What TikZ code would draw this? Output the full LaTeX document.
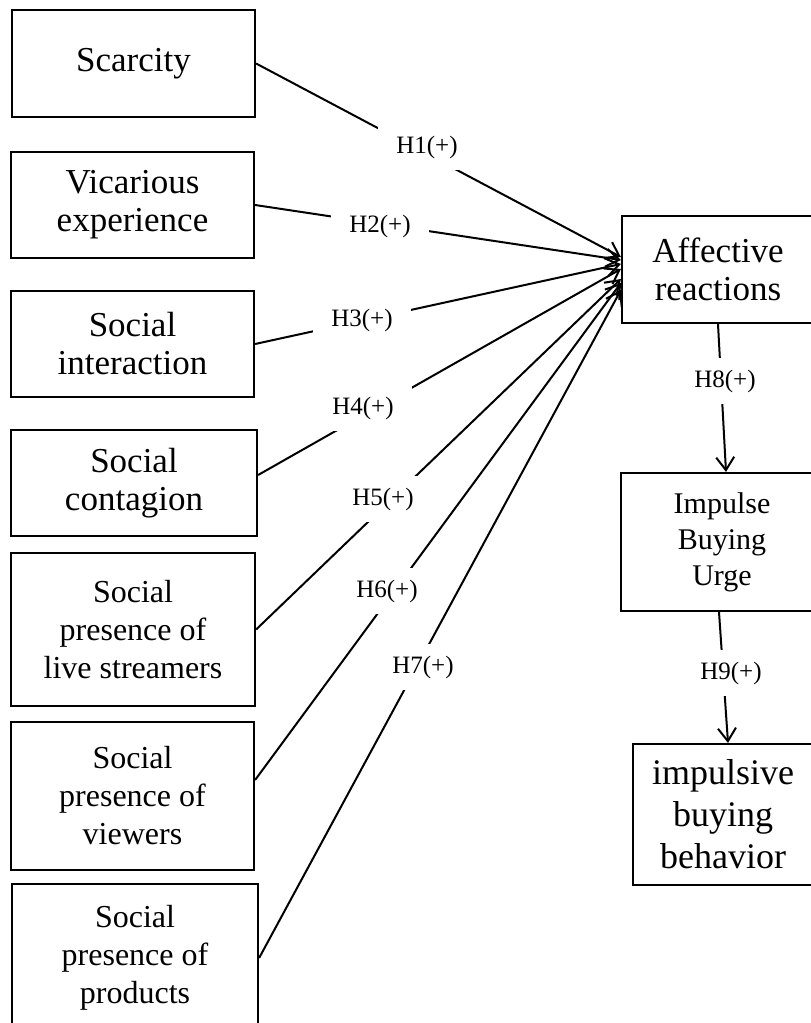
\documentclass[tikz,border=0pt]{standalone}
\usepackage{fontspec}
\setmainfont{Liberation Serif}
\usetikzlibrary{arrows.meta}

\begin{document}
\begin{tikzpicture}[x=1pt, y=-1pt,
        box/.style={draw, line width=2.2pt, align=center, inner sep=0pt},
        bigtext/.style={font=\fontsize{35}{38}\selectfont},
        midtext/.style={font=\fontsize{32}{38}\selectfont},
        hyp/.style={fill=white, inner xsep=18pt, inner ysep=12pt, font=\fontsize{25}{28}\selectfont},
        link/.style={line width=2pt, -{Straight Barb[length=13pt, width=18pt]}}]
        \useasboundingbox (0,0) rectangle (811,1023);
        \clip (0,0) rectangle (811,1023);

        % Antecedents
        \node[box, bigtext, minimum width=243pt, minimum height=107pt] (scar) at (133.5,63.5) {Scarcity};
        \node[box, bigtext, minimum width=243pt, minimum height=106pt] (vica) at (132.5,205) {Vicarious\\experience};
        \node[box, bigtext, minimum width=243pt, minimum height=106pt] (inter) at (132.5,344) {Social\\interaction};
        \node[box, bigtext, minimum width=246pt, minimum height=106pt] (conta) at (134,483) {Social\\contagion};
        \node[box, midtext, minimum width=244pt, minimum height=153pt] (live) at (133,629.5) {Social\\presence of\\live streamers};
        \node[box, midtext, minimum width=243pt, minimum height=148pt] (view) at (132.5,796) {Social\\presence of\\viewers};
        \node[box, midtext, minimum width=246pt, minimum height=148pt] (prod) at (135,958) {Social\\presence of\\products};

        % Mediators and outcome
        \node[box, bigtext, minimum width=192pt, minimum height=107pt] (aff) at (718,269.5) {Affective\\reactions};
        \node[box, font=\fontsize{30}{36}\selectfont, minimum width=202pt, minimum height=138pt] (urge) at (722,542) {Impulse\\Buying\\Urge};
        \node[box, font=\fontsize{36}{42}\selectfont, minimum width=180pt, minimum height=141pt] (beh) at (723,814.5) {impulsive\\buying\\behavior};

        % Paths
        \draw[link] (scar.east) -- ([yshift=12.5pt]aff.west);
        \draw[link] (vica.east) -- ([yshift=9.5pt]aff.west);
        \draw[link] (inter.east) -- ([yshift=5.5pt]aff.west);
        \draw[link] ([yshift=8pt]conta.east) -- ([yshift=0.5pt]aff.west);
        \draw[link] (live.east) -- ([yshift=-9.5pt]aff.west);
        \draw[link] ([yshift=16pt]view.east) -- ([yshift=-13.5pt]aff.west);
        \draw[link] (prod.east) -- ([yshift=-20.5pt]aff.west);
        \draw[link] (aff.south) -- ([xshift=4pt]urge.north);
        \draw[link] ([xshift=-3pt]urge.south) -- ([xshift=5pt]beh.north);

        % Hypothesis labels
        \node[hyp] (h1) at (427,147) {H1(+)};
        \node[hyp] (h2) at (380,226) {H2(+)};
        \node[hyp] (h3) at (362,320) {H3(+)};
        \node[hyp] (h4) at (363,408) {H4(+)};
        \node[hyp] (h5) at (383,499) {H5(+)};
        \node[hyp] (h6) at (387,591) {H6(+)};
        \node[hyp] (h7) at (423,667) {H7(+)};
        \node[hyp] (h8) at (725,381) {H8(+)};
        \node[hyp] (h9) at (731,673) {H9(+)};

    \end{tikzpicture}
\end{document}
